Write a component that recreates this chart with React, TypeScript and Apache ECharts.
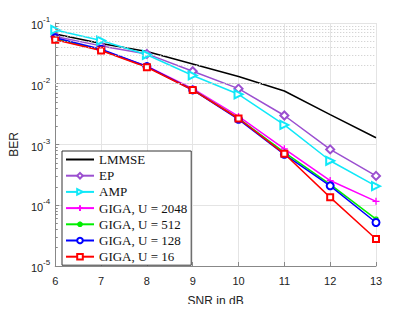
import React, { useEffect, useRef } from "react";
import * as echarts from "echarts";

const snr = [6, 7, 8, 9, 10, 11, 12, 13];
const lmmse = [0.066, 0.046, 0.034, 0.0212, 0.0132, 0.0076, 0.0031, 0.00129];
const ep = [0.06, 0.042, 0.031, 0.0161, 0.0083, 0.003, 0.00083, 0.000304];
const amp = [0.077, 0.0514, 0.03, 0.0137, 0.0067, 0.0021, 0.00054, 0.000206];
const giga2048 = [0.054, 0.036, 0.0195, 0.0083, 0.0029, 0.00085, 0.000255, 0.000116];
const giga512 = [0.055, 0.036, 0.019, 0.008, 0.0027, 0.00074, 0.00022, 0.000059];
const giga128 = [0.057, 0.037, 0.0192, 0.0079, 0.0026, 0.00069, 0.000209, 0.000052];
const giga16 = [0.0528, 0.0353, 0.0187, 0.0079, 0.00268, 0.000703, 0.000135, 0.0000278];
const legendNames = ["LMMSE", "EP", "AMP", "GIGA, U = 2048", "GIGA, U = 512", "GIGA, U = 128", "GIGA, U = 16"];

const minorValues: number[] = [];
for (const e of [-5, -4, -3, -2]) {
  for (let m = 2; m <= 9; m++) minorValues.push(Number((m * Math.pow(10, e)).toPrecision(3)));
}

const plus = "path://M5,0L5,10M0,5L10,5";
const star = "path://M5,0L5,10M0,5L10,5M1.5,1.5L8.5,8.5M8.5,1.5L1.5,8.5";

export default function App() {
  const ref = useRef<HTMLDivElement>(null);
  useEffect(() => {
    if (!ref.current) return;
    const chart = echarts.init(ref.current, null, { renderer: "svg" });
    const mk = (name: string, data: number[], color: string, symbol: string, size: number, extra: any = {}) => ({
      name,
      type: "line",
      data: snr.map((x, i) => [x, data[i]]),
      symbol,
      symbolSize: size,
      lineStyle: { color, width: 1.5 },
      itemStyle: { color, borderColor: color, borderWidth: 1.3 },
      z: 3,
      ...extra,
    });
    const option: any = {
      animation: false,
      backgroundColor: "#fff",
      textStyle: { fontFamily: "Liberation Sans" },
      grid: { left: 54, top: 23, width: 322, height: 245 },
      legend: {
        left: 62,
        top: 151,
        orient: "vertical",
        backgroundColor: "#fff",
        borderColor: "#333",
        borderWidth: 1,
        borderRadius: 0,
        padding: [2, 4, 2, 3],
        itemGap: 3.2,
        itemWidth: 28,
        itemHeight: 7,
        textStyle: { fontFamily: "Liberation Serif", fontSize: 13, color: "#111", lineHeight: 12 },
        data: legendNames.map((n) => (n === "LMMSE" ? { name: n, itemStyle: { opacity: 0 } } : n)),
      },
      xAxis: {
        type: "value",
        min: 6,
        max: 13,
        interval: 1,
        name: "SNR in dB",
        nameLocation: "middle",
        nameGap: 29,
        nameTextStyle: { fontSize: 12, color: "#222", fontFamily: "Liberation Sans" },
        axisLine: { show: true, lineStyle: { color: "#888", width: 1 } },
        axisTick: { show: true, inside: true, length: 4, lineStyle: { color: "#888" } },
        axisLabel: { fontSize: 11, color: "#222", margin: 9 },
        splitLine: { show: true, lineStyle: { color: "#e4e4e4", width: 1 } },
      },
      yAxis: {
        type: "log",
        logBase: 10,
        min: 1e-5,
        max: 1e-1,
        name: "BER",
        nameLocation: "middle",
        nameGap: 35,
        nameTextStyle: { fontSize: 12, color: "#222", fontFamily: "Liberation Sans" },
        axisLine: { show: true, lineStyle: { color: "#888", width: 1 } },
        axisTick: { show: true, inside: true, length: 4, lineStyle: { color: "#888" } },
        splitLine: { show: true, lineStyle: { color: "#e4e4e4", width: 1 } },
        axisLabel: {
          margin: 5,
          formatter: (v: number) => `{b|10}{s|${Math.round(Math.log10(v))}}`,
          rich: {
            b: { fontSize: 11, color: "#222", fontFamily: "Liberation Sans", verticalAlign: "bottom", lineHeight: 15 },
            s: { fontSize: 8, color: "#222", fontFamily: "Liberation Sans", verticalAlign: "top", lineHeight: 15 },
          },
        },
      },
      series: [
        {
          name: "_minor",
          type: "line",
          data: [],
          silent: true,
          z: 1,
          markLine: {
            silent: true,
            symbol: ["none", "none"],
            label: { show: false },
            animation: false,
            lineStyle: { color: "#c8c8c8", width: 1, type: [1, 2] },
            emphasis: { disabled: true },
            data: minorValues.map((v) => ({ yAxis: v })),
          },
        },
        {
          name: "_minorTick",
          type: "line",
          data: [],
          silent: true,
          z: 2,
          markLine: {
            silent: true,
            symbol: ["none", "none"],
            label: { show: false },
            animation: false,
            lineStyle: { color: "#888", width: 1, type: "solid" },
            emphasis: { disabled: true },
            data: minorValues.map((v) => [{ coord: [6, v] }, { coord: [6.055, v] }]),
          },
        },
        mk("LMMSE", lmmse, "#000000", "circle", 0, { showSymbol: false }),
        mk("EP", ep, "#9b4fd0", "emptyDiamond", 8),
        mk("AMP", amp, "#10e8f8", "emptyTriangle", 8, { symbolRotate: -90 }),
        mk("GIGA, U = 2048", giga2048, "#ff00ff", plus, 7),
        mk("GIGA, U = 512", giga512, "#00ee00", star, 6),
        mk("GIGA, U = 128", giga128, "#0000ff", "emptyCircle", 7),
        mk("GIGA, U = 16", giga16, "#ff0000", "emptyRect", 6),
      ],
    };
    chart.setOption(option);
    return () => chart.dispose();
  }, []);
  return <div ref={ref} style={{ width: 415, height: 312, margin: -8 }} />;
}
